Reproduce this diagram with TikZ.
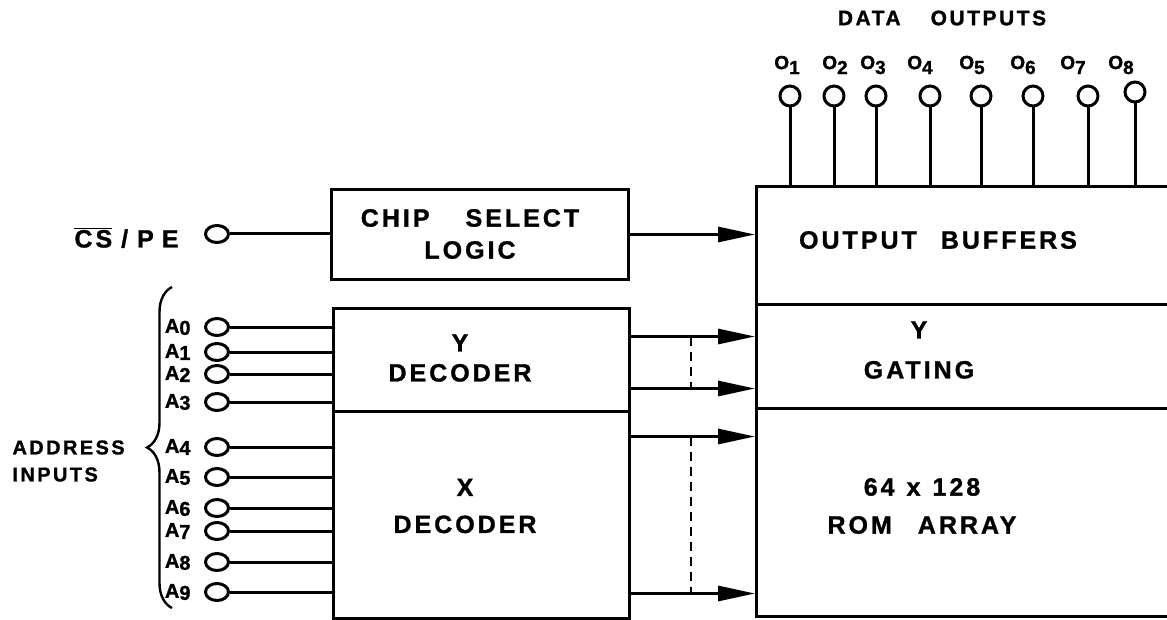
\documentclass[tikz,border=0pt]{standalone}
\usepackage{fontspec}
\usetikzlibrary{arrows.meta,positioning,shapes.geometric,decorations.pathreplacing}
\newfontfamily\lettering[LetterSpace=12,BoldFeatures={FakeBold=1.2}]{Liberation Sans}

\begin{document}
\begin{tikzpicture}[x=1pt,y=-1pt,
  line width=3pt,
  blk/.style={draw,rectangle,anchor=north west,inner sep=0pt},
  txt/.style={font=\lettering\bfseries\fontsize{25}{34}\selectfont,
              align=center,inner sep=0pt},
  small/.style={font=\lettering\bfseries\fontsize{20}{24}\selectfont,inner sep=0pt},
  pin/.style={draw,ellipse,minimum width=23pt,minimum height=17pt,inner sep=0pt},
  opin/.style={draw,circle,minimum size=20pt,inner sep=0pt},
  arr/.style={-{Triangle[length=37pt,width=15pt]}},
  split/.style={line width=2pt,dash pattern=on 9pt off 6pt}]
\clip (0,0) rectangle (1167,620);
% blocks
\node[blk,minimum width=297pt,minimum height=90pt] (cs) at (330,188) {};
\node[blk,minimum width=296pt,minimum height=103pt] (ydec) at (332,307) {};
\node[blk,minimum width=296pt,minimum height=207pt] (xdec) at (332,410) {};
\node[blk,minimum width=430pt,minimum height=118pt] (buffers) at (755,185) {};
\node[blk,minimum width=430pt,minimum height=104pt] (gating) at (755,303) {};
\node[blk,minimum width=430pt,minimum height=208pt] (rom) at (755,407) {};
% block texts
\node[txt] (cstxt) at (470,234) {CHIP\hspace{36pt}SELECT\\[-2pt]LOGIC};
\node[txt] (ytxt) at (460,358) {Y\\[-4pt]DECODER};
\node[txt] (xtxt) at (465,506) {X\\[3pt]DECODER};
\node[txt] (buftxt) at (938,240) {OUTPUT\hspace{24pt}BUFFERS};
\node[txt] (gatetxt) at (919,350) {Y\\[6pt]GATING};
\node[txt] (romtxt) at (922,506) {64\hspace{12pt}x\hspace{12pt}128\\[4pt]ROM\hspace{26pt}ARRAY};
% chip select input
\node[pin] (cspe) at (217,234) {};
\node[txt,font=\lettering\bfseries\fontsize{25}{28}\selectfont,anchor=east]
  (cspelbl) at (180,238) {$\overline{\hbox{CS}}$\hspace{9pt}/\hspace{9pt}P\hspace{8pt}E};
\draw (cspe) -- (cspe -| cs.west);
\draw[arr] (cs) -- (cs -| buffers.west);
% address inputs
\foreach \i/\y in {0/327,1/352,2/374,3/402}{
  \node[pin,label={[small,label distance=12pt]left:A\raisebox{-2pt}{\i}}] (a\i) at (217,\y) {};
  \draw (a\i) -- (a\i -| ydec.west);
}
\foreach \i/\y in {4/447,5/477,6/508,7/531,8/562,9/592}{
  \node[pin,label={[small,label distance=12pt]left:A\raisebox{-2pt}{\i}}] (a\i) at (217,\y) {};
  \draw (a\i) -- (a\i -| xdec.west);
}
\draw[decorate,decoration={brace,amplitude=25pt},line width=2.4pt] (172,608) -- (172,287);
\node[small,font=\lettering\bfseries\fontsize{20}{27}\selectfont,align=left,anchor=west]
  (addr) at (11,461) {ADDRESS\\INPUTS};
% decoder outputs
\draw[arr] ([yshift=23.5pt]ydec.east) coordinate (g1) -- (g1 -| gating.west);
\draw[arr] ([yshift=-28.5pt]ydec.east) coordinate (g2) -- (g2 -| gating.west);
\draw[arr] ([yshift=78.5pt]xdec.east) coordinate (r1) -- (r1 -| rom.west);
\draw[arr] ([yshift=-78.5pt]xdec.east) coordinate (r2) -- (r2 -| rom.west);
\draw[split] ([xshift=60pt]g1) -- ([xshift=60pt]g2);
\draw[split] ([xshift=60pt]r1) -- ([xshift=60pt]r2);
% data outputs
\foreach \i/\cx/\cy/\lx in {1/790/96/787,2/834/96/835,3/876/96/873,4/930/96/920,
                           5/981/96/972,6/1033/96/1023,7/1088/96/1073,8/1135/92/1121}{
  \node[opin] (o\i) at (\cx,\cy) {};
  \node[small,font=\lettering\bfseries\fontsize{19}{22}\selectfont] (ol\i) at (\lx,65) {O\raisebox{-5pt}{\i}};
  \draw (o\i) -- (o\i |- buffers.north);
}
\node[small,font=\lettering\bfseries\fontsize{21}{24}\selectfont] (dout) at (942,18) {DATA\hspace{30pt}OUTPUTS};
\end{tikzpicture}
\end{document}
